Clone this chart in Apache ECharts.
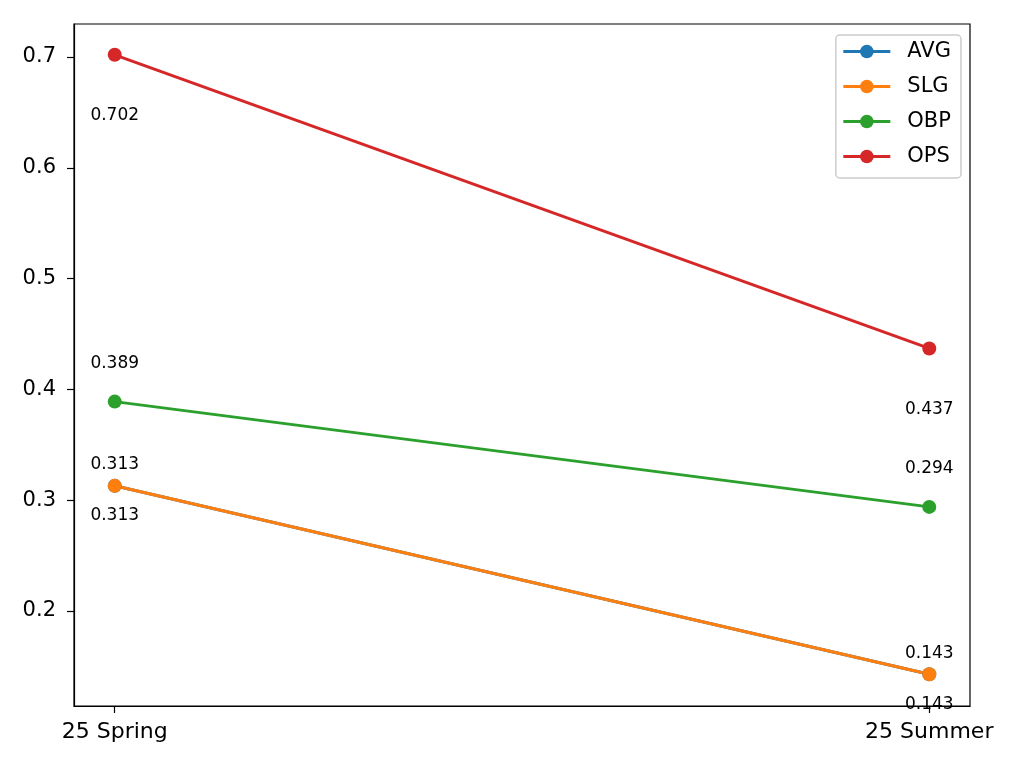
<!DOCTYPE html>
<html>
<head>
<meta charset="utf-8">
<script src="https://cdn.jsdelivr.net/npm/echarts@6/dist/echarts.min.js"></script>
<style>
  html, body { margin: 0; padding: 0; background: #fff; }
  #chart { width: 1024px; height: 768px; }
</style>
</head>
<body>
<div id="chart"></div>
<script>
// seasons on the x axis
const seasons = ['25 Spring', '25 Summer'];
const avgVals = [0.313, 0.143];
const slgVals = [0.313, 0.143];
const obpVals = [0.389, 0.294];
const opsVals = [0.702, 0.437];
const yTicks = [0.2, 0.3, 0.4, 0.5, 0.6, 0.7];

const font = 'DejaVu Sans';

function makeSeries(name, vals, color, dy) {
  return {
    name: name,
    type: 'line',
    data: vals.map((v, i) => [i, v]),
    symbol: 'circle',
    symbolSize: 14,
    lineStyle: { color: color, width: 3 },
    itemStyle: { color: color },
    label: {
      show: true,
      position: 'inside',
      color: '#000',
      fontFamily: font,
      fontSize: 17,
      formatter: p => p.value[1].toFixed(3)
    },
    labelLayout: { dy: dy, hideOverlap: false },
    emphasis: { disabled: true }
  };
}

const chart = echarts.init(document.getElementById('chart'));
chart.setOption({
  animation: false,
  grid: { left: 74, right: 54, top: 24, bottom: 62, show: true, borderColor: '#000', borderWidth: 1.2 },
  legend: {
    right: 63, top: 35,
    orient: 'vertical',
    itemWidth: 47, itemHeight: 17, itemGap: 14,
    padding: [6, 10, 11, 6],
    borderColor: '#ccc', borderWidth: 1.5, borderRadius: 4,
    backgroundColor: 'rgba(255,255,255,0.8)',
    lineStyle: { width: 3 },
    textStyle: { fontFamily: font, fontSize: 21, color: '#000', padding: [0, 0, 0, 12] },
    data: ['AVG', 'SLG', 'OBP', 'OPS']
  },
  xAxis: {
    type: 'value', min: -0.05, max: 1.05,
    splitLine: { show: false },
    axisLine: { show: true, onZero: false, lineStyle: { color: '#000', width: 1.2 } },
    axisTick: { show: true, customValues: [0, 1], length: 7, lineStyle: { color: '#000', width: 1.2 } },
    axisLabel: {
      customValues: [0, 1], formatter: v => seasons[Math.round(v)],
      color: '#000', fontFamily: font, fontSize: 22, margin: 15
    }
  },
  yAxis: {
    type: 'value', min: 0.1143, max: 0.7298,
    splitLine: { show: false },
    axisLine: { show: true, onZero: false, lineStyle: { color: '#000', width: 1.2 } },
    axisTick: { show: true, customValues: yTicks, length: 7, lineStyle: { color: '#000', width: 1.2 } },
    axisLabel: {
      customValues: yTicks, formatter: v => v.toFixed(1),
      color: '#000', fontFamily: font, fontSize: 21, margin: 18
    }
  },
  series: [
    makeSeries('AVG', avgVals, '#1f77b4', -21),
    makeSeries('SLG', slgVals, '#ff7f0e', 30),
    makeSeries('OBP', obpVals, '#2ca02c', -38),
    makeSeries('OPS', opsVals, '#d62728', 61)
  ]
});
</script>
</body>
</html>
